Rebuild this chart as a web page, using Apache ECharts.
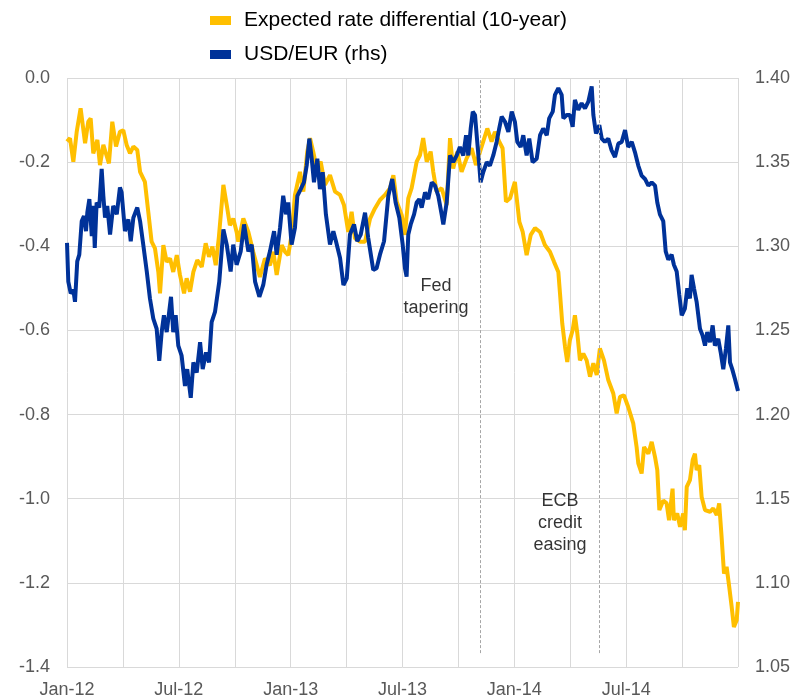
<!DOCTYPE html>
<html>
<head>
<meta charset="utf-8">
<script src="https://cdn.jsdelivr.net/npm/echarts@6/dist/echarts.min.js"></script>
<style>
  html, body { margin: 0; padding: 0; background: #fff; }
  #chart { width: 803px; height: 700px; }
</style>
</head>
<body>
<div id="chart"></div>
<script>
// x = months since Jan-2012
var tickLabels = ['Jan-12', 'Jul-12', 'Jan-13', 'Jul-13', 'Jan-14', 'Jul-14'];

// expected rate differential (10-year), lhs
var rateDiff = [
  [0, -0.151], [0.16, -0.143], [0.34, -0.199], [0.52, -0.128], [0.73, -0.072], [0.97, -0.155],
  [1.14, -0.104], [1.27, -0.096], [1.41, -0.179], [1.63, -0.147], [1.77, -0.207], [1.95, -0.159],
  [2.25, -0.203], [2.43, -0.104], [2.63, -0.163], [2.84, -0.128], [3.02, -0.124], [3.20, -0.159],
  [3.38, -0.179], [3.56, -0.163], [3.77, -0.171], [3.92, -0.223], [4.18, -0.247], [4.36, -0.318],
  [4.54, -0.389], [4.72, -0.405], [4.90, -0.461], [4.99, -0.512], [5.17, -0.397], [5.35, -0.437],
  [5.53, -0.429], [5.70, -0.461], [5.89, -0.421], [6.06, -0.468], [6.28, -0.512], [6.42, -0.476],
  [6.60, -0.508], [6.78, -0.461], [6.99, -0.433], [7.23, -0.449], [7.44, -0.393], [7.62, -0.425],
  [7.80, -0.401], [7.98, -0.445], [8.15, -0.377], [8.39, -0.254], [8.57, -0.302], [8.74, -0.350],
  [8.92, -0.334], [9.10, -0.366], [9.19, -0.389], [9.46, -0.334], [9.73, -0.366], [9.99, -0.413],
  [10.35, -0.473], [10.62, -0.429], [10.89, -0.445], [11.07, -0.413], [11.25, -0.468], [11.52, -0.397],
  [11.70, -0.413], [11.87, -0.421], [12.05, -0.373], [12.23, -0.278], [12.50, -0.223], [12.68, -0.270],
  [12.89, -0.175], [13.04, -0.143], [13.21, -0.175], [13.40, -0.215], [13.61, -0.199], [13.84, -0.254],
  [14.11, -0.231], [14.38, -0.270], [14.65, -0.278], [14.86, -0.302], [15.09, -0.366], [15.27, -0.318],
  [15.45, -0.381], [15.72, -0.389], [15.99, -0.389], [16.26, -0.334], [16.52, -0.310], [16.79, -0.290],
  [17.06, -0.278], [17.33, -0.262], [17.51, -0.231], [17.69, -0.294], [17.96, -0.326], [18.13, -0.373],
  [18.31, -0.286], [18.49, -0.262], [18.76, -0.199], [18.94, -0.183], [19.11, -0.143], [19.30, -0.199],
  [19.51, -0.175], [19.65, -0.223], [19.83, -0.270], [20.10, -0.262], [20.37, -0.302], [20.55, -0.143],
  [20.72, -0.215], [20.94, -0.175], [21.17, -0.223], [21.44, -0.191], [21.71, -0.167], [21.94, -0.207],
  [22.16, -0.175], [22.33, -0.151], [22.55, -0.120], [22.78, -0.151], [22.96, -0.128], [23.19, -0.151],
  [23.37, -0.167], [23.55, -0.294], [23.77, -0.286], [24.03, -0.247], [24.27, -0.342], [24.45, -0.366],
  [24.66, -0.421], [24.88, -0.373], [25.11, -0.357], [25.38, -0.366], [25.64, -0.397], [25.91, -0.413],
  [26.13, -0.437], [26.36, -0.461], [26.45, -0.512], [26.57, -0.583], [26.72, -0.639], [26.84, -0.675],
  [26.98, -0.623], [27.13, -0.599], [27.25, -0.564], [27.38, -0.607], [27.52, -0.671], [27.70, -0.655],
  [27.88, -0.671], [28.06, -0.710], [28.24, -0.678], [28.42, -0.706], [28.59, -0.643], [28.81, -0.671],
  [29.04, -0.718], [29.31, -0.750], [29.49, -0.797], [29.67, -0.758], [29.88, -0.754], [30.11, -0.782],
  [30.38, -0.821], [30.56, -0.877], [30.65, -0.916], [30.83, -0.940], [30.96, -0.877], [31.19, -0.893],
  [31.37, -0.865], [31.55, -0.901], [31.67, -0.932], [31.78, -1.027], [31.99, -1.004], [32.17, -1.011],
  [32.30, -1.051], [32.49, -0.976], [32.56, -1.051], [32.74, -1.035], [32.89, -1.067], [33.06, -1.035],
  [33.15, -1.075], [33.25, -0.972], [33.42, -0.956], [33.57, -0.908], [33.69, -0.893], [33.78, -0.932],
  [33.92, -0.920], [34.05, -0.996], [34.23, -1.027], [34.50, -1.031], [34.67, -1.023], [34.86, -1.039],
  [34.99, -1.011], [35.12, -1.091], [35.25, -1.178], [35.39, -1.162], [35.53, -1.210], [35.66, -1.257],
  [35.78, -1.305], [35.93, -1.289], [36.0, -1.245]
];

// USD/EUR, rhs
var usdEur = [
  [0, 1.302], [0.07, 1.279], [0.20, 1.272], [0.34, 1.274], [0.43, 1.267], [0.55, 1.291],
  [0.66, 1.295], [0.79, 1.315], [0.91, 1.318], [1.02, 1.309], [1.09, 1.320], [1.20, 1.328],
  [1.33, 1.306], [1.41, 1.324], [1.49, 1.299], [1.59, 1.326], [1.73, 1.323], [1.86, 1.346],
  [1.95, 1.330], [2.04, 1.317], [2.16, 1.324], [2.31, 1.307], [2.48, 1.324], [2.67, 1.319],
  [2.84, 1.335], [2.93, 1.332], [3.11, 1.309], [3.29, 1.316], [3.42, 1.303], [3.56, 1.317],
  [3.77, 1.323], [3.92, 1.315], [4.09, 1.301], [4.28, 1.285], [4.45, 1.269], [4.63, 1.257],
  [4.81, 1.251], [4.95, 1.232], [5.08, 1.249], [5.20, 1.259], [5.35, 1.249], [5.58, 1.270],
  [5.70, 1.249], [5.83, 1.259], [5.97, 1.241], [6.15, 1.235], [6.33, 1.217], [6.45, 1.227],
  [6.64, 1.210], [6.78, 1.231], [6.96, 1.225], [7.14, 1.243], [7.28, 1.227], [7.46, 1.237],
  [7.62, 1.231], [7.76, 1.255], [7.94, 1.261], [8.17, 1.279], [8.39, 1.310], [8.57, 1.301],
  [8.78, 1.285], [8.92, 1.301], [9.10, 1.289], [9.32, 1.297], [9.50, 1.313], [9.73, 1.297],
  [9.91, 1.301], [10.09, 1.279], [10.32, 1.270], [10.53, 1.277], [10.71, 1.289], [10.89, 1.297],
  [11.11, 1.309], [11.25, 1.295], [11.43, 1.311], [11.60, 1.330], [11.75, 1.319], [11.87, 1.326],
  [12.05, 1.301], [12.23, 1.311], [12.36, 1.330], [12.54, 1.334], [12.71, 1.338], [12.86, 1.348],
  [13.00, 1.364], [13.13, 1.352], [13.25, 1.338], [13.43, 1.352], [13.57, 1.334], [13.72, 1.344],
  [13.89, 1.319], [14.11, 1.301], [14.29, 1.309], [14.43, 1.303], [14.65, 1.293], [14.83, 1.277],
  [15.01, 1.281], [15.18, 1.307], [15.40, 1.313], [15.57, 1.303], [15.76, 1.307], [15.99, 1.320],
  [16.16, 1.305], [16.43, 1.286], [16.61, 1.287], [16.79, 1.295], [17.01, 1.303], [17.24, 1.330],
  [17.45, 1.340], [17.63, 1.326], [17.83, 1.317], [18.01, 1.301], [18.13, 1.287], [18.22, 1.282],
  [18.31, 1.307], [18.44, 1.313], [18.62, 1.319], [18.76, 1.326], [18.90, 1.328], [19.03, 1.323],
  [19.21, 1.332], [19.38, 1.328], [19.57, 1.338], [19.74, 1.336], [19.92, 1.330], [20.10, 1.319],
  [20.19, 1.313], [20.37, 1.326], [20.55, 1.354], [20.72, 1.350], [20.91, 1.354], [21.08, 1.359],
  [21.26, 1.354], [21.41, 1.366], [21.53, 1.354], [21.66, 1.370], [21.77, 1.380], [21.89, 1.378],
  [22.01, 1.362], [22.12, 1.348], [22.19, 1.338], [22.33, 1.344], [22.52, 1.350], [22.69, 1.348],
  [22.87, 1.354], [23.05, 1.362], [23.19, 1.370], [23.32, 1.377], [23.50, 1.374], [23.68, 1.368],
  [23.86, 1.380], [24.03, 1.374], [24.16, 1.362], [24.34, 1.359], [24.48, 1.366], [24.66, 1.354],
  [24.80, 1.364], [24.98, 1.350], [25.20, 1.352], [25.38, 1.366], [25.55, 1.370], [25.74, 1.366],
  [25.87, 1.376], [26.06, 1.380], [26.18, 1.390], [26.36, 1.394], [26.54, 1.390], [26.63, 1.376],
  [26.81, 1.378], [26.98, 1.378], [27.13, 1.371], [27.25, 1.387], [27.43, 1.381], [27.61, 1.385],
  [27.79, 1.382], [27.97, 1.386], [28.15, 1.395], [28.24, 1.378], [28.38, 1.367], [28.56, 1.372],
  [28.69, 1.364], [28.86, 1.362], [29.04, 1.364], [29.22, 1.357], [29.40, 1.353], [29.58, 1.361],
  [29.76, 1.362], [29.94, 1.369], [30.11, 1.359], [30.30, 1.362], [30.47, 1.356], [30.65, 1.348],
  [30.83, 1.342], [31.01, 1.340], [31.19, 1.336], [31.37, 1.338], [31.55, 1.336], [31.67, 1.326],
  [31.81, 1.319], [31.99, 1.315], [32.12, 1.297], [32.26, 1.292], [32.44, 1.295], [32.56, 1.289],
  [32.71, 1.285], [32.85, 1.271], [32.98, 1.259], [33.15, 1.263], [33.28, 1.275], [33.42, 1.269],
  [33.51, 1.283], [33.64, 1.275], [33.78, 1.267], [33.96, 1.251], [34.10, 1.247], [34.23, 1.241],
  [34.35, 1.249], [34.50, 1.243], [34.64, 1.253], [34.76, 1.241], [34.94, 1.245], [35.07, 1.237],
  [35.21, 1.227], [35.35, 1.239], [35.48, 1.253], [35.57, 1.231], [35.69, 1.227], [35.84, 1.221],
  [36.0, 1.214]
];

// event lines (month, lhs top, lhs bottom)
var eventMonths = [22.16, 28.54];
var eventTop = -0.005, eventBottom = -1.367;

// annotations [month, lhs value, text]
var notes = [
  [19.8, -0.52, 'Fed\ntapering'],
  [26.45, -1.058, 'ECB\ncredit\neasing']
];

var font = 'Liberation Sans, Arial, sans-serif';
var gridColor = '#d9d9d9';

var myChart = echarts.init(document.getElementById('chart'));

option = {
    animation: false,
    backgroundColor: '#fff',
    textStyle: { fontFamily: font },
    grid: { left: 67, right: 65, top: 78, bottom: 33 },
    legend: {
        orient: 'vertical',
        left: 205,
        top: 5,
        itemWidth: 21,
        itemHeight: 9,
        itemGap: 13,
        icon: 'rect',
        textStyle: { fontSize: 21, color: '#000', fontFamily: font, padding: [0, 0, 0, 8] },
        data: ['Expected rate differential (10-year)', 'USD/EUR (rhs)']
    },
    xAxis: {
        type: 'value',
        min: 0,
        max: 36,
        interval: 3,
        axisLine: { show: false },
        axisTick: { show: false },
        splitLine: { show: true, lineStyle: { color: gridColor, width: 1 } },
        axisLabel: {
            fontSize: 18,
            color: '#595959',
            margin: 14,
            showMaxLabel: false,
            formatter: function (v) {
                return v % 6 === 0 && v < 36 ? tickLabels[v / 6] : '';
            }
        }
    },
    yAxis: [{
        type: 'value',
        min: -1.4,
        max: 0,
        interval: 0.2,
        axisLine: { show: false },
        axisTick: { show: false },
        splitLine: { show: true, lineStyle: { color: gridColor, width: 1 } },
        axisLabel: {
            fontSize: 18,
            color: '#595959',
            margin: 17,
            formatter: function (v) { return v.toFixed(1); }
        }
    }, {
        type: 'value',
        min: 1.05,
        max: 1.40,
        interval: 0.05,
        axisLine: { show: false },
        axisTick: { show: false },
        splitLine: { show: false },
        axisLabel: {
            fontSize: 18,
            color: '#595959',
            margin: 17,
            formatter: function (v) { return v.toFixed(2); }
        }
    }],
    series: [{
        name: 'Expected rate differential (10-year)',
        type: 'line',
        yAxisIndex: 0,
        data: rateDiff,
        showSymbol: false,
        color: '#FFBF00',
        lineStyle: { width: 4, color: '#FFBF00' },
        markLine: {
            silent: true,
            symbol: 'none',
            label: { show: false },
            lineStyle: { color: '#a6a6a6', type: [3, 2], width: 1 },
            data: eventMonths.map(function (m) {
                return [{ coord: [m, eventTop] }, { coord: [m, eventBottom] }];
            })
        },
        z: 2
    }, {
        name: 'USD/EUR (rhs)',
        type: 'line',
        yAxisIndex: 1,
        data: usdEur,
        showSymbol: false,
        color: '#003299',
        lineStyle: { width: 4, color: '#003299' },
        z: 3
    }, {
        type: 'scatter',
        yAxisIndex: 0,
        symbolSize: 0,
        silent: true,
        data: notes.map(function (n) { return { value: [n[0], n[1]], text: n[2] }; }),
        label: {
            show: true,
            position: 'inside',
            fontSize: 18,
            lineHeight: 22,
            color: '#000',
            align: 'center',
            formatter: function (p) { return p.data.text; }
        },
        z: 4
    }]
};

myChart.setOption(option);
</script>
</body>
</html>
